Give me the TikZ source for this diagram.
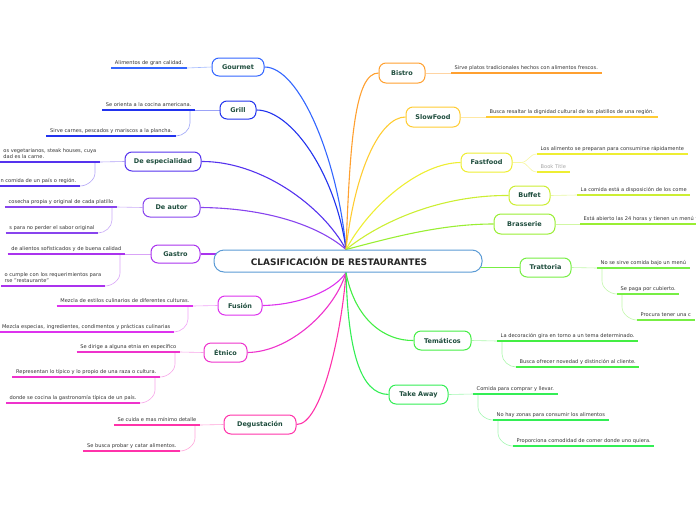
\documentclass[tikz,border=0pt]{standalone}
\usepackage{fontspec}
\setmainfont{DejaVu Sans}
\usetikzlibrary{calc}
\pgfdeclarelayer{bg}
\pgfsetlayers{bg,main}
\definecolor{cCenter}{HTML}{5B9BD5}
\definecolor{cGourmet}{HTML}{3366FF}
\definecolor{cGrill}{HTML}{2233EE}
\definecolor{cEsp}{HTML}{5533EE}
\definecolor{cAutor}{HTML}{8844EE}
\definecolor{cGastro}{HTML}{AA33EE}
\definecolor{cFusion}{HTML}{DD33EE}
\definecolor{cEtnico}{HTML}{EE33CC}
\definecolor{cDegus}{HTML}{FF33AA}
\definecolor{cBistro}{HTML}{FFA030}
\definecolor{cSlow}{HTML}{FFCC33}
\definecolor{cFast}{HTML}{EEEE33}
\definecolor{cBuffet}{HTML}{CCEE33}
\definecolor{cBrass}{HTML}{99EE33}
\definecolor{cTratt}{HTML}{77EE44}
\definecolor{cTema}{HTML}{44EE44}
\definecolor{cTake}{HTML}{33EE55}
\definecolor{nodetext}{HTML}{1E4D3D}
\definecolor{leaftext}{HTML}{333333}
\tikzset{
  mn/.style={draw=#1, line width=1pt, rounded corners=7pt, fill=white, inner sep=0pt,
    font=\fontsize{6.5}{8}\selectfont\bfseries, text=nodetext},
  br/.style={draw=#1, line width=1.1pt},
  lc/.style={draw=#1!45, line width=0.6pt},
  ul/.style={draw=#1, line width=1.8pt},
  leafL/.style={anchor=south east, inner xsep=3.5pt, inner ysep=2pt, text depth=1.2pt,
    font=\fontsize{5.1}{6.3}\selectfont, text=leaftext, align=left},
  leafR/.style={anchor=south west, inner xsep=3.5pt, inner ysep=2pt, text depth=1.2pt,
    font=\fontsize{5.1}{6.3}\selectfont, text=leaftext, align=left},
}
% left leaf: name, position, text, colour
\newcommand\myleafl[4]{\node[leafL] (#1) at (#2) {#3}; \draw[ul=#4] (#1.south west) -- (#1.south east);}
\newcommand\myleafr[4]{\node[leafR] (#1) at (#2) {#3}; \draw[ul=#4] (#1.south west) -- (#1.south east);}
% sub connectors
\newcommand\mysubl[3]{%
  \coordinate (tmpS) at ($(#1.south east)+(-5,0)$);
  \coordinate (tmpM) at ($(#2.south east)+(0,-13)$);
  \draw[lc=#3] (tmpS) -- (tmpS |- tmpM) .. controls +(0,7) and +(7,0) .. (#2.south east);}
\newcommand\mysubr[3]{%
  \coordinate (tmpS) at ($(#1.south west)+(5,0)$);
  \coordinate (tmpM) at ($(#2.south west)+(0,-13)$);
  \draw[lc=#3] (tmpS) -- (tmpS |- tmpM) .. controls +(0,7) and +(-7,0) .. (#2.south west);}
\begin{document}
\begin{tikzpicture}[x=1pt,y=-1pt]
\useasboundingbox (0,0) rectangle (696,520);

% central node
\node[draw=cCenter, line width=1pt, rounded corners=10pt, minimum width=268pt, minimum height=22pt,
  fill=white, inner sep=0pt, font=\fontsize{9}{11}\selectfont\bfseries, text=black!85]
  (c) at (348,261) {CLASIFICACIÓN DE RESTAURANTES\hspace*{18pt}};
\coordinate (T) at ($(c.north)+(-2,0)$);
\coordinate (B) at ($(c.south)+(-2,0)$);

% main nodes - left
\node[mn=cGourmet, minimum width=52pt, minimum height=18pt] (gourmet) at (238,67) {Gourmet};
\node[mn=cGrill, minimum width=36pt, minimum height=18pt] (grill) at (238,110) {Grill};
\node[mn=cEsp, minimum width=76pt, minimum height=19pt] (esp) at (163,161.5) {De especialidad};
\node[mn=cAutor, minimum width=57pt, minimum height=19pt] (autor) at (171.5,207.5) {De autor};
\node[mn=cGastro, minimum width=49pt, minimum height=18pt] (gastro) at (175.5,254) {Gastro};
\node[mn=cFusion, minimum width=44pt, minimum height=19pt] (fusion) at (240,305.5) {Fusión};
\node[mn=cEtnico, minimum width=43pt, minimum height=19pt] (etnico) at (225.5,352.5) {Étnico};
\node[mn=cDegus, minimum width=72pt, minimum height=19pt] (degus) at (260,424.5) {Degustación};
% main nodes - right
\node[mn=cBistro, minimum width=46pt, minimum height=20pt] (bistro) at (402,73) {Bistro};
\node[mn=cSlow, minimum width=54pt, minimum height=20pt] (slow) at (433,117) {SlowFood};
\node[mn=cFast, minimum width=51pt, minimum height=19pt] (fast) at (486.5,162.5) {Fastfood};
\node[mn=cBuffet, minimum width=41pt, minimum height=19pt] (buffet) at (529.5,195.5) {Buffet};
\node[mn=cBrass, minimum width=61pt, minimum height=20pt] (brass) at (524.5,224) {Brasserie};
\node[mn=cTratt, minimum width=51pt, minimum height=19pt] (tratt) at (545.5,267.5) {Trattoria};
\node[mn=cTema, minimum width=57pt, minimum height=19pt] (tema) at (442.5,340.5) {Temáticos};
\node[mn=cTake, minimum width=59pt, minimum height=19pt] (take) at (418.5,394.5) {Take Away};

% leaves - left
\myleafl{g1}{187,68}{Alimentos de gran calidad.}{cGourmet}
\myleafl{gr1}{195,110}{Se orienta a la cocina americana.}{cGrill}
\myleafl{gr2}{176,136}{Sirve carnes, pescados y mariscos a la plancha.}{cGrill}
\myleafl{e1}{100,162}{os vegetarianos, steak houses, cuya\\dad es la carne.}{cEsp}
\myleafl{e2}{80,186}{n comida de un país o región.}{cEsp}
\myleafl{a1}{117,207}{cosecha propia y original de cada platillo}{cAutor}
\myleafl{a2}{98,233}{s para no perder el sabor original}{cAutor}
\myleafl{ga1}{125,254}{de alientos sofisticados y de buena calidad}{cGastro}
\myleafl{ga2}{105,286}{o cumple con los requerimientos para\\rse "restaurante"}{cGastro}
\myleafl{f1}{193,306}{Mezcla de estilos culinarios de diferentes culturas.}{cFusion}
\myleafl{f2}{174,332}{Mezcla especias, ingredientes, condimentos y prácticas culinarias}{cFusion}
\myleafl{et1}{180,352}{Se dirige a alguna etnia en específico}{cEtnico}
\myleafl{et2}{160,377}{Representan lo típico y lo propio de una raza o cultura.}{cEtnico}
\myleafl{et3}{140,403}{donde se cocina la gastronomía típica de un país.}{cEtnico}
\myleafl{d1}{200,425}{Se cuida e mas mínimo detalle}{cDegus}
\myleafl{d2}{180,451}{Se busca probar y catar alimentos.}{cDegus}
% leaves - right
\myleafr{b1}{451,73}{Sirve platos tradicionales hechos con alimentos frescos.}{cBistro}
\myleafr{s1}{486,117}{Busca resaltar la dignidad cultural de los platillos de una región.}{cSlow}
\myleafr{ff1}{537,154}{Los alimento se preparan para consumirse rápidamente}{cFast}
\node[leafR, text=black!35] (ff2) at (537,172) {Book Title};
\draw[ul=cFast] (ff2.south west) -- (ff2.south east);
\myleafr{bu1}{577,195}{La comida está a disposición de los come}{cBuffet}
\myleafr{br1}{580,224}{Está abierto las 24 horas y tienen un menú f}{cBrass}
\myleafr{t1}{597,268}{No se sirve comida bajo un menú}{cTratt}
\myleafr{t2}{617,294}{Se paga por cubierto.}{cTratt}
\myleafr{t3}{637,320}{Procura tener una c}{cTratt}
\myleafr{te1}{497,341}{La decoración gira en torno a un tema determinado.}{cTema}
\myleafr{te2}{516,367}{Busca ofrecer novedad y distinción al cliente.}{cTema}
\myleafr{ta1}{473,394}{Comida para comprar y llevar.}{cTake}
\myleafr{ta2}{493,420}{No hay zonas para consumir los alimentos}{cTake}
\myleafr{ta3}{513,446}{Proporciona comodidad de comer donde uno quiera.}{cTake}

\begin{pgfonlayer}{bg}
% branches
\draw[br=cGourmet] (gourmet.east) .. controls (300,67) and (338,160) .. (T);
\draw[br=cGrill] (grill.east) .. controls (292,110) and (336,175) .. (T);
\draw[br=cEsp] (esp.east) .. controls (260,161) and (322,205) .. (T);
\draw[br=cAutor] (autor.east) .. controls (265,208) and (318,225) .. (T);
\draw[br=cGastro] (gastro.east) -- ($(gastro.east -| c.west)+(5,0)$);
\draw[br=cBistro] (T) .. controls (350,140) and (355,73) .. (bistro.west);
\draw[br=cSlow] (T) .. controls (355,170) and (380,117) .. (slow.west);
\draw[br=cFast] (T) .. controls (370,205) and (420,163) .. (fast.west);
\draw[br=cBuffet] (T) .. controls (380,222) and (440,195) .. (buffet.west);
\draw[br=cBrass] (T) .. controls (390,238) and (440,224) .. (brass.west);
\draw[br=cTratt] ($(c.east |- tratt.west)+(-5,0)$) -- (tratt.west);
\draw[br=cFusion] (fusion.east) .. controls (300,305) and (335,290) .. (B);
\draw[br=cEtnico] (etnico.east) .. controls (290,352) and (335,310) .. (B);
\draw[br=cDegus] (degus.east) .. controls (322,425) and (342,330) .. (B);
\draw[br=cTema] (B) .. controls (355,320) and (385,341) .. (tema.west);
\draw[br=cTake] (B) .. controls (348,350) and (360,394) .. (take.west);
% leaf connectors
\draw[lc=cGourmet] (gourmet.west) -- (g1.south east);
\draw[lc=cGrill] (grill.west) -- (gr1.south east);
\mysubl{gr1}{gr2}{cGrill}
\draw[lc=cEsp] (esp.west) -- (e1.south east);
\mysubl{e1}{e2}{cEsp}
\draw[lc=cAutor] (autor.west) -- (a1.south east);
\mysubl{a1}{a2}{cAutor}
\draw[lc=cGastro] (gastro.west) -- (ga1.south east);
\mysubl{ga1}{ga2}{cGastro}
\draw[lc=cFusion] (fusion.west) -- (f1.south east);
\mysubl{f1}{f2}{cFusion}
\draw[lc=cEtnico] (etnico.west) -- (et1.south east);
\mysubl{et1}{et2}{cEtnico}
\mysubl{et2}{et3}{cEtnico}
\draw[lc=cDegus] (degus.west) -- (d1.south east);
\mysubl{d1}{d2}{cDegus}
\draw[lc=cBistro] (bistro.east) -- (b1.south west);
\draw[lc=cSlow] (slow.east) -- (s1.south west);
\draw[lc=cFast] (fast.east) -- ++(8,0) coordinate (ffk) .. controls +(8,0) and +(-8,0) .. (ff1.south west);
\draw[lc=cFast] (ffk) .. controls +(8,0) and +(-8,0) .. (ff2.south west);
\draw[lc=cBuffet] (buffet.east) -- (bu1.south west);
\draw[lc=cBrass] (brass.east) -- (br1.south west);
\draw[lc=cTratt] (tratt.east) -- (t1.south west);
\mysubr{t1}{t2}{cTratt}
\mysubr{t2}{t3}{cTratt}
\draw[lc=cTema] (tema.east) -- (te1.south west);
\mysubr{te1}{te2}{cTema}
\draw[lc=cTake] (take.east) -- (ta1.south west);
\mysubr{ta1}{ta2}{cTake}
\mysubr{ta2}{ta3}{cTake}
\end{pgfonlayer}
\end{tikzpicture}
\end{document}
